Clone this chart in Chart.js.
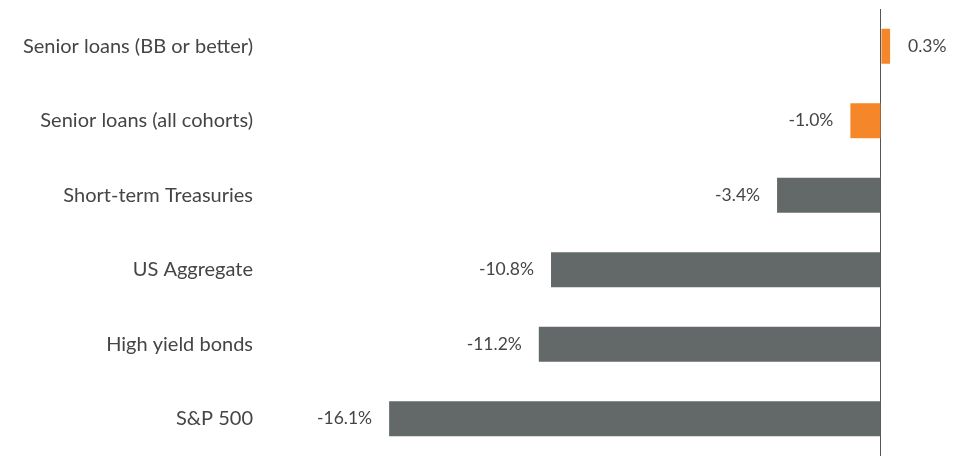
<!DOCTYPE html>
<html>
<head>
<meta charset="utf-8">
<script src="https://cdn.jsdelivr.net/npm/chart.js@4.4.1/dist/chart.umd.min.js"></script>
<style>
  html, body { margin: 0; padding: 0; background: #ffffff; overflow: hidden; }
  #wrap { width: 964px; height: 469px; position: relative; }
</style>
</head>
<body>
<div id="wrap"><canvas id="c"></canvas></div>
<script>
const categories = [
  "Senior loans (BB or better)",
  "Senior loans (all cohorts)",
  "Short-term Treasuries",
  "US Aggregate",
  "High yield bonds",
  "S&P 500"
];
const values = [0.3, -1.0, -3.4, -10.8, -11.2, -16.1];
const valueLabels = ["0.3%", "-1.0%", "-3.4%", "-10.8%", "-11.2%", "-16.1%"];
const highlightCount = 2;

const ORANGE = "#f5862a";
const GRAY = "#636968";
const TEXT = "#454545";
const FONT = "Lato, 'Open Sans', sans-serif";

const barColors = categories.map((_, i) => i < highlightCount ? ORANGE : GRAY);

const valueLabelPlugin = {
  id: "valueLabels",
  afterDatasetsDraw(chart) {
    const ctx = chart.ctx;
    const meta = chart.getDatasetMeta(0);
    ctx.save();
    ctx.font = "17.5px " + FONT;
    ctx.fillStyle = TEXT;
    ctx.textBaseline = "middle";
    meta.data.forEach((bar, i) => {
      const v = values[i];
      if (v < 0) {
        ctx.textAlign = "right";
        ctx.fillText(valueLabels[i], bar.x - 17, bar.y);
      } else {
        ctx.textAlign = "left";
        ctx.fillText(valueLabels[i], bar.x + 18, bar.y);
      }
    });
    ctx.restore();
  }
};

new Chart(document.getElementById("c"), {
  type: "bar",
  data: {
    labels: categories,
    datasets: [{
      data: values,
      backgroundColor: barColors,
      borderWidth: 0,
      barPercentage: 0.47,
      categoryPercentage: 1.0
    }]
  },
  options: {
    indexAxis: "y",
    responsive: true,
    maintainAspectRatio: false,
    animation: false,
    layout: { padding: { top: 9, bottom: 13, left: 0, right: 0 } },
    plugins: { legend: { display: false }, tooltip: { enabled: false } },
    scales: {
      x: {
        min: -20,
        max: 2.72,
        ticks: { display: false, stepSize: 5 },
        border: { display: false },
        grid: {
          drawTicks: false,
          lineWidth: 1,
          color: (c) => (c.tick && c.tick.value === 0) ? "#555555" : "rgba(0,0,0,0)"
        },
        afterFit: (scale) => { scale.height = 0; scale.paddingLeft = 0; scale.paddingRight = 0; }
      },
      y: {
        afterFit: (scale) => { scale.width = 270; scale.paddingTop = 0; scale.paddingBottom = 0; },
        border: { display: false },
        grid: { display: false, drawTicks: false },
        ticks: {
          padding: 17,
          color: TEXT,
          font: { family: FONT, size: 20 }
        }
      }
    }
  },
  plugins: [valueLabelPlugin]
});
</script>
</body>
</html>
